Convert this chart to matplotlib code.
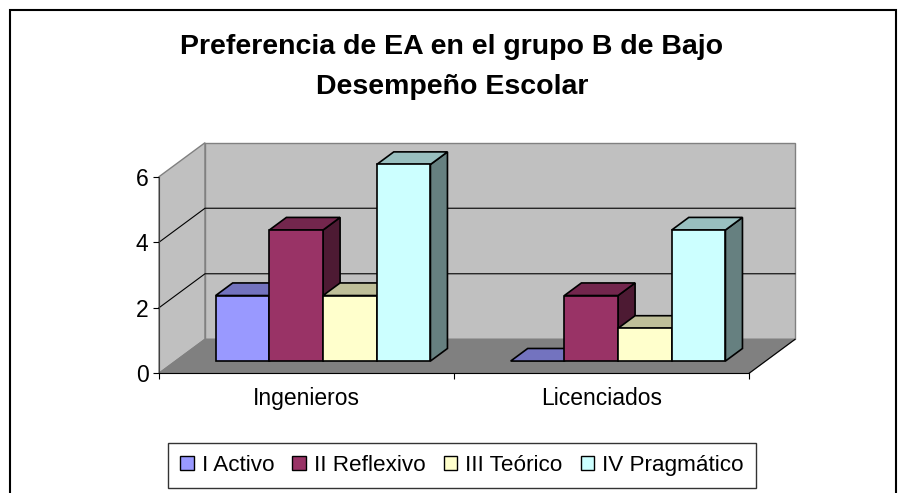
import numpy as np
import matplotlib
matplotlib.use("Agg")
import matplotlib.pyplot as plt
from matplotlib.patches import Polygon, Rectangle, Patch
from matplotlib.colors import to_rgb

plt.rcParams['font.family'] = ['Liberation Sans', 'DejaVu Sans']

categories = ['Ingenieros', 'Licenciados']
series = ['I Activo', 'II Reflexivo', 'III Teórico', 'IV Pragmático']
values = {
    'I Activo': [2, 0],
    'II Reflexivo': [4, 2],
    'III Teórico': [2, 1],
    'IV Pragmático': [6, 4],
}
colors = ['#9999FF', '#993366', '#FFFFCC', '#CCFFFF']
yticks = [0, 2, 4, 6]


def shade(c, k):
    r, g, b = to_rgb(c)
    return (r * k, g * k, b * k)


fig = plt.figure(figsize=(9.01, 4.93), dpi=100)
ax = fig.add_axes([159 / 901, 1 - 373.3 / 493, 590 / 901, 196.6 / 493])
ax.set_xlim(0, len(categories))
ax.set_ylim(0, 6)

# depth of the 3D box in data units
DX = 46 / 295
DY = 34 / 32.77
ymax = 6

wall = '#C0C0C0'
# side wall, back wall, floor
ax.add_patch(Polygon([(0, 0), (DX, DY), (DX, ymax + DY), (0, ymax)],
                     closed=True, fc=wall, ec='#808080', lw=1, clip_on=False, zorder=1))
ax.add_patch(Polygon([(DX, DY), (2 + DX, DY), (2 + DX, ymax + DY), (DX, ymax + DY)],
                     closed=True, fc=wall, ec='#808080', lw=1, clip_on=False, zorder=1))
ax.add_patch(Polygon([(0, 0), (2, 0), (2 + DX, DY), (DX, DY)],
                     closed=True, fc='#808080', ec='#808080', lw=1, clip_on=False, zorder=1))
ax.plot([2, 2 + DX], [0, DY], color='black', lw=0.8, clip_on=False, zorder=2)

# gridlines on walls
for v in yticks[1:-1]:
    ax.plot([0, DX, 2 + DX], [v, v + DY, v + DY], color='black', lw=0.8,
            clip_on=False, zorder=2)

# bars
n = len(series)
w = 0.182
f0, f1 = 0.36, 0.73
for i in range(len(categories)):
    for j, s in enumerate(series):
        v = values[s][i]
        c = colors[j]
        x0 = i + 0.5 - n * w / 2 + j * w + f0 * DX
        y0 = f0 * DY
        ddx = (f1 - f0) * DX
        ddy = (f1 - f0) * DY
        z = 3 + j
        if v > 0:
            ax.add_patch(Polygon([(x0 + w, y0), (x0 + w + ddx, y0 + ddy),
                                  (x0 + w + ddx, y0 + v + ddy), (x0 + w, y0 + v)],
                                 closed=True, fc=shade(c, 0.5), ec='black', lw=1.2,
                                 clip_on=False, zorder=z))
        ax.add_patch(Polygon([(x0, y0 + v), (x0 + w, y0 + v),
                              (x0 + w + ddx, y0 + v + ddy), (x0 + ddx, y0 + v + ddy)],
                             closed=True, fc=shade(c, 0.75), ec='black', lw=1.2,
                             clip_on=False, zorder=z))
        if v > 0:
            ax.add_patch(Rectangle((x0, y0), w, v, fc=c, ec='black', lw=1.2,
                                   clip_on=False, zorder=z))

# axes styling
for side in ['top', 'right']:
    ax.spines[side].set_visible(False)
ax.spines['left'].set_color('#404040')
ax.spines['bottom'].set_color('black')
ax.spines['left'].set_zorder(2)
ax.spines['bottom'].set_zorder(2)
ax.set_yticks(yticks)
ax.tick_params(axis='y', direction='out', length=4.5, width=0.8, pad=3, labelsize=16.5)
ax.set_xticks([0, 1, 2])
ax.set_xticklabels([])
ax.set_xticks([0.5, 1.5], minor=True)
ax.set_xticklabels(categories, minor=True)
ax.tick_params(axis='x', which='major', direction='out', length=4.5, width=0.8)
ax.tick_params(axis='x', which='minor', length=0, pad=10, labelsize=16.5)
ax.patch.set_visible(False)

fig.text(452 / 901, 1 - 67 / 493, 'Preferencia de EA en el grupo B de Bajo\nDesempeño Escolar',
         ha='center', va='center', fontsize=20.5, fontweight='bold', linespacing=1.7)

handles = [Patch(facecolor=c, edgecolor='black', linewidth=1) for c in colors]
leg = fig.legend(handles, series, loc='center', bbox_to_anchor=(462 / 901, 1 - 465.5 / 493),
                 ncol=4, fontsize=16.2, frameon=True, fancybox=False, edgecolor='black',
                 handlelength=0.6, handleheight=0.6, handletextpad=0.36, columnspacing=0.8,
                 borderpad=0.55, borderaxespad=0)
leg.get_frame().set_linewidth(1)

fig.patches.append(Rectangle((10 / 901, -0.05), 886 / 901, 0.05 + 1 - 10 / 493,
                             transform=fig.transFigure, fill=False, ec='black', lw=1.5))

fig.savefig('out.png', dpi=100)
